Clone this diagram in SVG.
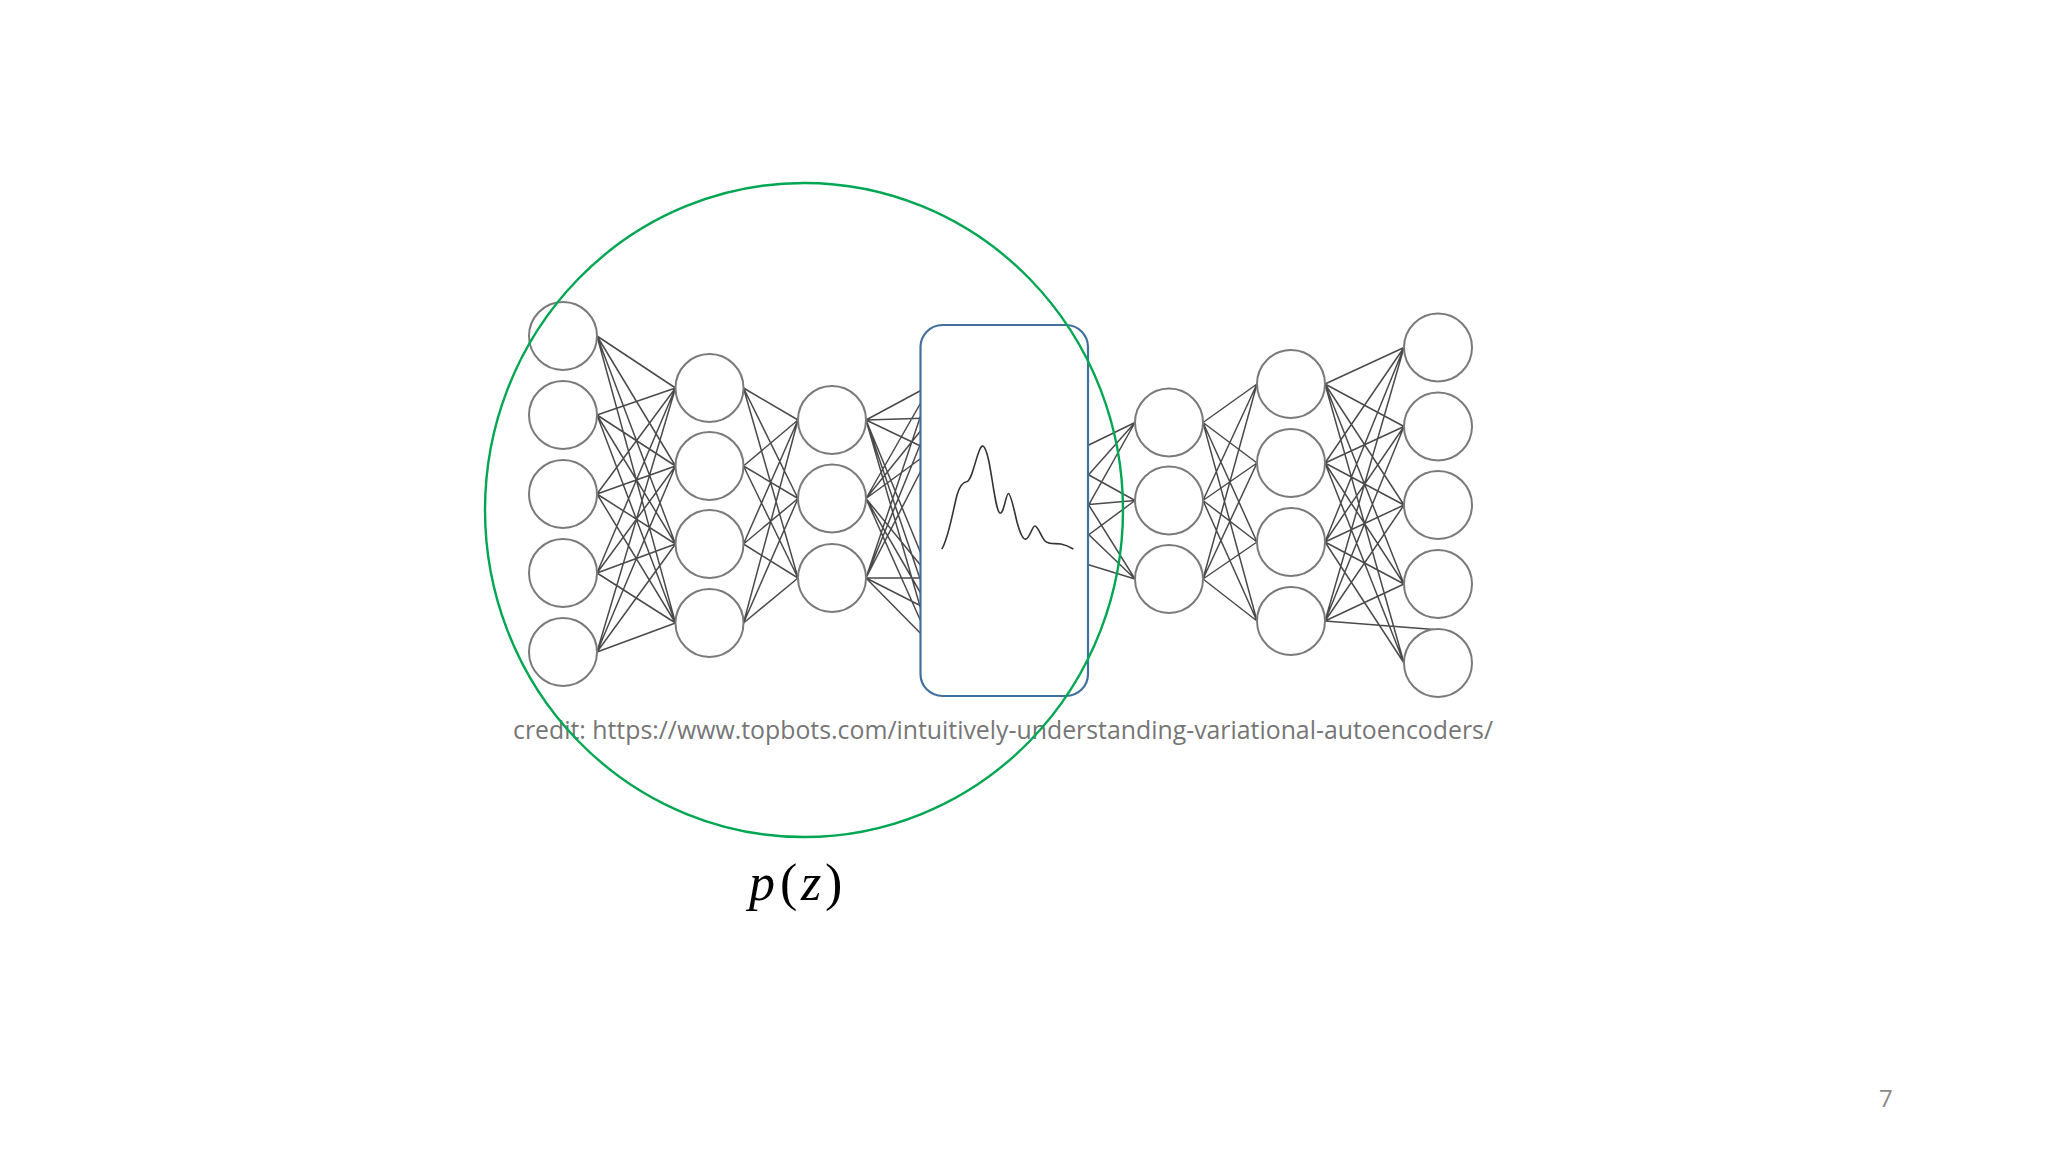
<svg xmlns="http://www.w3.org/2000/svg" width="2048" height="1152" viewBox="0 0 2048 1152">
<style>
.n{fill:#fff;stroke:#7a7a7a;stroke-width:2}
.e{fill:none;stroke:#4a4a4a;stroke-width:1.5;stroke-linecap:round}
.credit{font-family:"Open Sans","Noto Sans","Liberation Sans",sans-serif;font-size:25px;fill:#767676}
.pz{font-family:"Liberation Serif","DejaVu Serif",serif;font-size:52px;fill:#000}
.pg{font-family:"Open Sans","Noto Sans","Liberation Sans",sans-serif;font-size:24px;fill:#8a8a8a}
</style>
<rect width="2048" height="1152" fill="#fff"/>
<g id="connectors">
<path class="e" d="M597 336L675.5 388M597 336L675.5 466M597 336L675.5 544M597 336L675.5 623M597 415L675.5 388M597 415L675.5 466M597 415L675.5 544M597 415L675.5 623M597 494L675.5 388M597 494L675.5 466M597 494L675.5 544M597 494L675.5 623M597 573L675.5 388M597 573L675.5 466M597 573L675.5 544M597 573L675.5 623M597 652L675.5 388M597 652L675.5 466M597 652L675.5 544M597 652L675.5 623"/>
<path class="e" d="M743.5 388L798 420M743.5 388L798 498.5M743.5 388L798 578M743.5 466L798 420M743.5 466L798 498.5M743.5 466L798 578M743.5 544L798 420M743.5 544L798 498.5M743.5 544L798 578M743.5 623L798 420M743.5 623L798 498.5M743.5 623L798 578"/>
<path class="e" d="M866 420L931 385M866 420L931 418M866 420L931 451M866 420L931 578M866 420L931 611M866 420L931 644M866 498.5L931 385M866 498.5L931 418M866 498.5L931 451M866 498.5L931 578M866 498.5L931 611M866 498.5L931 644M866 578L931 385M866 578L931 418M866 578L931 451M866 578L931 578M866 578L931 611M866 578L931 644"/>
<path class="e" d="M1060 459L1135 422.5M1060 459L1135 500.5M1060 459L1135 579M1060 507L1135 422.5M1060 507L1135 500.5M1060 507L1135 579M1060 556L1135 422.5M1060 556L1135 500.5M1060 556L1135 579"/>
<path class="e" d="M1203 422.5L1257 384M1203 422.5L1257 463M1203 422.5L1257 542M1203 422.5L1257 621M1203 500.5L1257 384M1203 500.5L1257 463M1203 500.5L1257 542M1203 500.5L1257 621M1203 579L1257 384M1203 579L1257 463M1203 579L1257 542M1203 579L1257 621"/>
<path class="e" d="M1325 384L1404 347.5M1325 384L1404 426.5M1325 384L1404 505M1325 384L1404 584M1325 384L1404 663M1325 463L1404 347.5M1325 463L1404 426.5M1325 463L1404 505M1325 463L1404 584M1325 463L1404 663M1325 542L1404 347.5M1325 542L1404 426.5M1325 542L1404 505M1325 542L1404 584M1325 542L1404 663M1325 621L1404 347.5M1325 621L1404 426.5M1325 621L1404 505M1325 621L1404 584M1325 621L1434 629.5"/>
</g>
<g id="encoder1">
<g id="e1n1"><circle class="n" cx="563" cy="336" r="34"/></g>
<g id="e1n2"><circle class="n" cx="563" cy="415" r="34"/></g>
<g id="e1n3"><circle class="n" cx="563" cy="494" r="34"/></g>
<g id="e1n4"><circle class="n" cx="563" cy="573" r="34"/></g>
<g id="e1n5"><circle class="n" cx="563" cy="652" r="34"/></g>
</g>
<g id="encoder2">
<g id="e2n1"><circle class="n" cx="709.5" cy="388" r="34"/></g>
<g id="e2n2"><circle class="n" cx="709.5" cy="466" r="34"/></g>
<g id="e2n3"><circle class="n" cx="709.5" cy="544" r="34"/></g>
<g id="e2n4"><circle class="n" cx="709.5" cy="623" r="34"/></g>
</g>
<g id="encoder3">
<g id="e3n1"><circle class="n" cx="832" cy="420" r="34"/></g>
<g id="e3n2"><circle class="n" cx="832" cy="498.5" r="34"/></g>
<g id="e3n3"><circle class="n" cx="832" cy="578" r="34"/></g>
</g>
<g id="decoder1">
<g id="d1n1"><circle class="n" cx="1169" cy="422.5" r="34"/></g>
<g id="d1n2"><circle class="n" cx="1169" cy="500.5" r="34"/></g>
<g id="d1n3"><circle class="n" cx="1169" cy="579" r="34"/></g>
</g>
<g id="decoder2">
<g id="d2n1"><circle class="n" cx="1291" cy="384" r="34"/></g>
<g id="d2n2"><circle class="n" cx="1291" cy="463" r="34"/></g>
<g id="d2n3"><circle class="n" cx="1291" cy="542" r="34"/></g>
<g id="d2n4"><circle class="n" cx="1291" cy="621" r="34"/></g>
</g>
<g id="decoder3">
<g id="d3n1"><circle class="n" cx="1438" cy="347.5" r="34"/></g>
<g id="d3n2"><circle class="n" cx="1438" cy="426.5" r="34"/></g>
<g id="d3n3"><circle class="n" cx="1438" cy="505" r="34"/></g>
<g id="d3n4"><circle class="n" cx="1438" cy="584" r="34"/></g>
<g id="d3n5"><circle class="n" cx="1438" cy="663" r="34"/></g>
</g>
<g id="latent">
<rect x="920.5" y="325" width="167.5" height="371" rx="22" fill="#fff" stroke="#41719c" stroke-width="2.2"/>
<path d="M941.7 549C948 540 952 515 957 495C960 485 963 482 967 481.5C972 480 975 460 980 449C983 442 986 448 989 462C993 482 996 512 1000 513C1004 514 1006 493 1008.5 493.5C1011 494 1014 510 1017 522C1020 533 1023 540 1026 539C1030 538 1032 526 1035 526C1038 526 1041 537 1045 541C1049 545 1055 543 1061 544C1066 545 1070 547 1073.3 549" fill="none" stroke="#333" stroke-width="1.6"/>
</g>
<text class="credit" x="513" y="739" textLength="980" lengthAdjust="spacingAndGlyphs">credit: https://www.topbots.com/intuitively-understanding-variational-autoencoders/</text>
<g id="prior">
<ellipse cx="804" cy="510" rx="319" ry="327" fill="none" stroke="#00a651" stroke-width="2.4"/>
</g>
<text class="pz" y="900"><tspan x="749" font-style="italic">p</tspan><tspan x="780">(</tspan><tspan x="801" font-style="italic">z</tspan><tspan x="825">)</tspan></text>
<text class="pg" x="1879" y="1107">7</text>
</svg>
